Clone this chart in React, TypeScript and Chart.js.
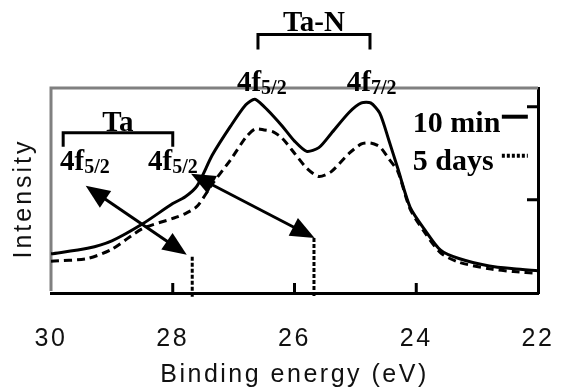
import React, { useEffect, useRef } from "react";
import { Chart, registerables } from "chart.js";

Chart.register(...registerables);

// ---- data ----
const energies = [30, 29.4, 29.0, 28.5, 28.0, 27.8, 27.6, 27.35, 27.05, 26.8, 26.65, 26.5, 26.35, 26.2, 26.0, 25.8, 25.6, 25.4, 25.1, 24.9, 24.75, 24.6, 24.45, 24.3, 24.1, 23.85, 23.6, 23.3, 22.8, 22.4, 22.0];
const tenMin = [0.42, 0.48, 0.56, 0.74, 0.96, 1.03, 1.15, 1.48, 1.79, 2.02, 2.08, 2.0, 1.9, 1.79, 1.63, 1.52, 1.56, 1.71, 1.94, 2.04, 2.04, 1.93, 1.64, 1.33, 0.92, 0.67, 0.46, 0.37, 0.29, 0.26, 0.24];
const fiveDays = [0.34, 0.37, 0.47, 0.69, 0.8, 0.85, 0.93, 1.17, 1.43, 1.67, 1.76, 1.75, 1.73, 1.66, 1.5, 1.34, 1.25, 1.3, 1.5, 1.6, 1.61, 1.57, 1.44, 1.3, 0.9, 0.64, 0.43, 0.33, 0.26, 0.23, 0.21];
const seriesLabels = ["10 min", "5 days"];
const xTickValues = [30, 28, 26, 24, 22];
const yTickValues = [1, 2];
const xTitle = "Binding energy (eV)";
const yTitle = "Intensity";

// Ta metal reference markers (energy, top intensity)
const markerEnergies = [27.68, 25.68];
const markerTops = [0.39, 0.59];

// double-headed arrows (energy/intensity of both tips)
const arrowStartE = [29.43, 27.7];
const arrowStartI = [1.15, 1.28];
const arrowEndE = [27.77, 25.67];
const arrowEndI = [0.41, 0.59];

// bracket groups
const groupNames = ["Ta-N", "Ta"];
const groupLeftE = [26.6, 29.8];
const groupRightE = [24.76, 28.0];
const groupLineI = [2.774, 1.72];
const groupFootI = [2.613, 1.57];
const groupNameI = [2.817, 1.742];

// peak labels: main text, subscript, left energy, baseline intensity
const peakMain = ["4f", "4f", "4f", "4f"];
const peakSub = ["5/2", "7/2", "5/2", "5/2"];
const peakE = [26.946, 25.14, 29.852, 28.407];
const peakI = [2.172, 2.172, 1.323, 1.323];

// legend anchor (data units)
const legendTextE = 24.056;
const legendLineE = [22.594, 22.167];
const legendBaseI = [1.731, 1.323];
const legendLineI = [1.892, 1.473];

const SANS = "'Liberation Sans', Arial, sans-serif";
const SERIF = "'Liberation Serif', 'Times New Roman', serif";

function drawArrowHead(ctx: CanvasRenderingContext2D, x: number, y: number, ang: number, L: number, W: number) {
  ctx.beginPath();
  ctx.moveTo(x, y);
  ctx.lineTo(x - L * Math.cos(ang) + W * Math.sin(ang), y - L * Math.sin(ang) - W * Math.cos(ang));
  ctx.lineTo(x - L * Math.cos(ang) - W * Math.sin(ang), y - L * Math.sin(ang) + W * Math.cos(ang));
  ctx.closePath();
  ctx.fill();
}

const decor = {
  id: "decor",
  beforeUpdate(chart: any) {
    chart.ctx.letterSpacing = "2.5px";
  },
  beforeDraw(chart: any) {
    chart.ctx.letterSpacing = "2.5px";
  },
  beforeDatasetsDraw(chart: any) {
    const { ctx, chartArea: a, scales } = chart;
    ctx.save();
    ctx.strokeStyle = "#808080";
    ctx.lineWidth = 3;
    ctx.beginPath();
    ctx.moveTo(a.left, a.bottom - 2);
    ctx.lineTo(a.left, a.top);
    ctx.lineTo(a.right, a.top);
    ctx.stroke();
    ctx.strokeStyle = "#000";
    ctx.lineWidth = 3;
    ctx.beginPath();
    xTickValues.forEach((v) => {
      const x = scales.x.getPixelForValue(v);
      if (Math.abs(x - a.left) < 2 || Math.abs(x - a.right) < 2) return;
      ctx.moveTo(x, a.bottom);
      ctx.lineTo(x, a.bottom - 10);
    });
    yTickValues.forEach((v) => {
      const y = scales.y.getPixelForValue(v);
      ctx.moveTo(a.right, y);
      ctx.lineTo(a.right - 11, y);
    });
    ctx.stroke();
    // y title
    ctx.letterSpacing = "3px";
    ctx.fillStyle = "#111";
    ctx.font = `25px ${SANS}`;
    ctx.textAlign = "center";
    ctx.textBaseline = "middle";
    ctx.translate(a.left - 27, (a.top + a.bottom) / 2 + 8);
    ctx.rotate(-Math.PI / 2);
    ctx.fillText(yTitle, 0, 0);
    ctx.restore();
  },
  afterDatasetsDraw(chart: any) {
    const { ctx, scales } = chart;
    const px = (e: number) => scales.x.getPixelForValue(e);
    const py = (i: number) => scales.y.getPixelForValue(i);
    ctx.save();
    ctx.letterSpacing = "0px";
    ctx.fillStyle = "#000";
    ctx.strokeStyle = "#000";

    // arrows
    ctx.lineWidth = 3;
    arrowStartE.forEach((_, k) => {
      const x1 = px(arrowStartE[k]), y1 = py(arrowStartI[k]);
      const x2 = px(arrowEndE[k]), y2 = py(arrowEndI[k]);
      const ang = Math.atan2(y2 - y1, x2 - x1);
      const L = 24, W = 10;
      ctx.beginPath();
      ctx.moveTo(x1 + Math.cos(ang) * L * 0.7, y1 + Math.sin(ang) * L * 0.7);
      ctx.lineTo(x2 - Math.cos(ang) * L * 0.7, y2 - Math.sin(ang) * L * 0.7);
      ctx.stroke();
      drawArrowHead(ctx, x2, y2, ang, L, W);
      drawArrowHead(ctx, x1, y1, ang + Math.PI, L, W);
    });

    // brackets + group names
    groupNames.forEach((name, k) => {
      const xl = px(groupLeftE[k]), xr = px(groupRightE[k]);
      const yl = py(groupLineI[k]), yf = py(groupFootI[k]);
      ctx.lineWidth = 3;
      ctx.beginPath();
      ctx.moveTo(xl, yf);
      ctx.lineTo(xl, yl);
      ctx.lineTo(xr, yl);
      ctx.lineTo(xr, yf);
      ctx.stroke();
      ctx.font = `bold 29px ${SERIF}`;
      ctx.textAlign = "center";
      ctx.textBaseline = "alphabetic";
      ctx.fillText(name, (xl + xr) / 2, py(groupNameI[k]));
    });

    // peak labels
    ctx.textAlign = "left";
    ctx.textBaseline = "alphabetic";
    peakMain.forEach((m, k) => {
      const x = px(peakE[k]), y = py(peakI[k]);
      ctx.font = `bold 29px ${SERIF}`;
      ctx.fillText(m, x, y);
      const w = ctx.measureText(m).width;
      ctx.font = `bold 20px ${SERIF}`;
      ctx.fillText(peakSub[k], x + w, y + 3);
    });

    // legend
    const ds = chart.data.datasets;
    [0, 1].forEach((k) => {
      ctx.font = `bold 30px ${SERIF}`;
      ctx.textAlign = "left";
      ctx.fillText(ds[k].label, px(legendTextE), py(legendBaseI[k]));
      ctx.lineWidth = 4;
      ctx.setLineDash(k === 0 ? [] : [3, 2]);
      ctx.beginPath();
      ctx.moveTo(px(legendLineE[0]), py(legendLineI[k]));
      ctx.lineTo(px(legendLineE[1]), py(legendLineI[k]));
      ctx.stroke();
    });
    ctx.restore();
  },
};

export default function App() {
  const ref = useRef<HTMLCanvasElement>(null);
  useEffect(() => {
    if (!ref.current) return;
    const mk = (ys: number[]) => energies.map((e, i) => ({ x: e, y: ys[i] }));
    const markerSets = markerEnergies.map((e, k) => ({
      label: "marker" + k,
      data: [
        { x: e, y: markerTops[k] },
        { x: e, y: -0.05 },
      ],
      borderColor: "#000",
      borderWidth: 3,
      borderDash: [4, 2],
      pointRadius: 0,
      clip: false as any,
    }));
    const chart = new Chart(ref.current, {
      type: "line",
      data: {
        datasets: [
          {
            label: seriesLabels[0],
            data: mk(tenMin),
            borderColor: "#000",
            borderWidth: 3,
            pointRadius: 0,
            tension: 0.25,
          },
          {
            label: seriesLabels[1],
            data: mk(fiveDays),
            borderColor: "#000",
            borderWidth: 3,
            borderDash: [8, 5],
            pointRadius: 0,
            tension: 0.25,
          },
          ...markerSets,
        ] as any,
      },
      options: {
        responsive: false,
        animation: false,
        layout: { padding: { left: 51, top: 88, right: 0, bottom: 0 } },
        plugins: { legend: { display: false }, tooltip: { enabled: false } },
        scales: {
          x: {
            type: "linear",
            min: 22,
            max: 30,
            reverse: true,
            position: "bottom",
            afterBuildTicks: (s: any) => {
              s.ticks = xTickValues.map((v) => ({ value: v }));
            },
            afterFit: (s: any) => {
              s.height = 95;
              s.paddingLeft = 0;
              s.paddingRight = 0;
            },
            grid: { display: false, drawTicks: false },
            border: { display: true, color: "#000", width: 3 },
            ticks: {
              font: { family: SANS, size: 25 },
              color: "#111",
              padding: 31,
              maxRotation: 0,
              autoSkip: false,
            },
            title: {
              display: true,
              text: xTitle,
              font: { family: SANS, size: 25 },
              color: "#111",
              padding: { top: 0, bottom: -2 },
            },
          },
          y: {
            type: "linear",
            min: 0,
            max: 2.2,
            position: "right",
            afterBuildTicks: (s: any) => {
              s.ticks = yTickValues.map((v) => ({ value: v }));
            },
            afterFit: (s: any) => {
              s.width = 28;
            },
            grid: { display: false, drawTicks: false },
            border: { display: true, color: "#000", width: 3 },
            ticks: { display: false },
          },
        },
      } as any,
      plugins: [decor],
    });
    return () => chart.destroy();
  }, []);
  return (
    <div style={{ position: "fixed", left: 0, top: 0, width: 566, height: 388, background: "#fff" }}>
      <canvas ref={ref} width={566} height={388} />
    </div>
  );
}
